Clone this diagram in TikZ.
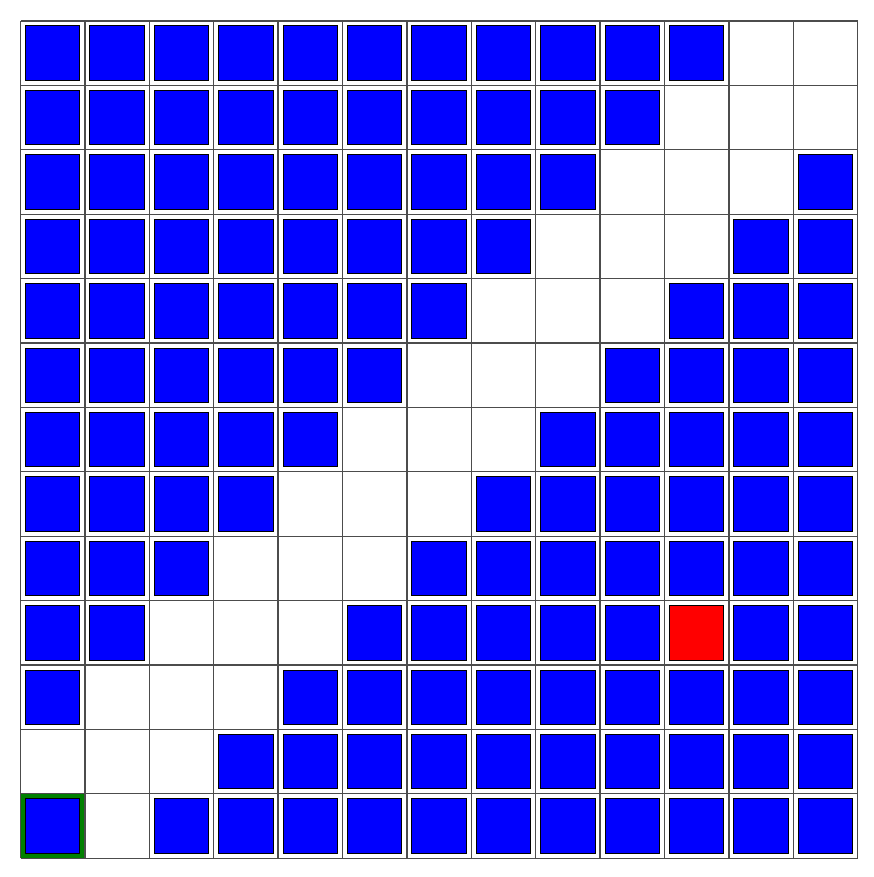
\documentclass[tikz,border=0pt]{standalone}
\begin{document}
\begin{tikzpicture}[x=1pt,y=-1pt,
  bluebox/.style={fill=blue, draw=black, line width=1pt},
  redbox/.style={fill=red, draw=black, line width=1pt},
  gridline/.style={draw=black!70, line width=1.3pt}]
\useasboundingbox (0,0) rectangle (873,877);
\def\ox{20.5}\def\oy{21}\def\cs{64.4}
\fill[white] (\ox,\oy) rectangle ++(13*\cs,13*\cs);
% start cell (green)
\fill[green!50!black] (\ox,\oy+12*\cs) rectangle ++(\cs,\cs);
% grid
\foreach \i in {0,...,13}{
  \draw[gridline] (\ox+\i*\cs,\oy) -- ++(0,13*\cs);
  \draw[gridline] (\ox,\oy+\i*\cs) -- ++(13*\cs,0);
}
% blue blocks
\foreach \r/\cl in {
  0/{0,1,2,3,4,5,6,7,8,9,10},
  1/{0,1,2,3,4,5,6,7,8,9},
  2/{0,1,2,3,4,5,6,7,8,12},
  3/{0,1,2,3,4,5,6,7,11,12},
  4/{0,1,2,3,4,5,6,10,11,12},
  5/{0,1,2,3,4,5,9,10,11,12},
  6/{0,1,2,3,4,8,9,10,11,12},
  7/{0,1,2,3,7,8,9,10,11,12},
  8/{0,1,2,6,7,8,9,10,11,12},
  9/{0,1,5,6,7,8,9,11,12},
  10/{0,4,5,6,7,8,9,10,11,12},
  11/{3,4,5,6,7,8,9,10,11,12},
  12/{0,2,3,4,5,6,7,8,9,10,11,12}}{
  \foreach \c in \cl {
    \draw[bluebox] (\ox+\c*\cs+5,\oy+\r*\cs+5) rectangle ++(\cs-10,\cs-10);
  }
}
% goal
\draw[redbox] (\ox+10*\cs+5,\oy+9*\cs+5) rectangle ++(\cs-10,\cs-10);
\end{tikzpicture}
\end{document}
